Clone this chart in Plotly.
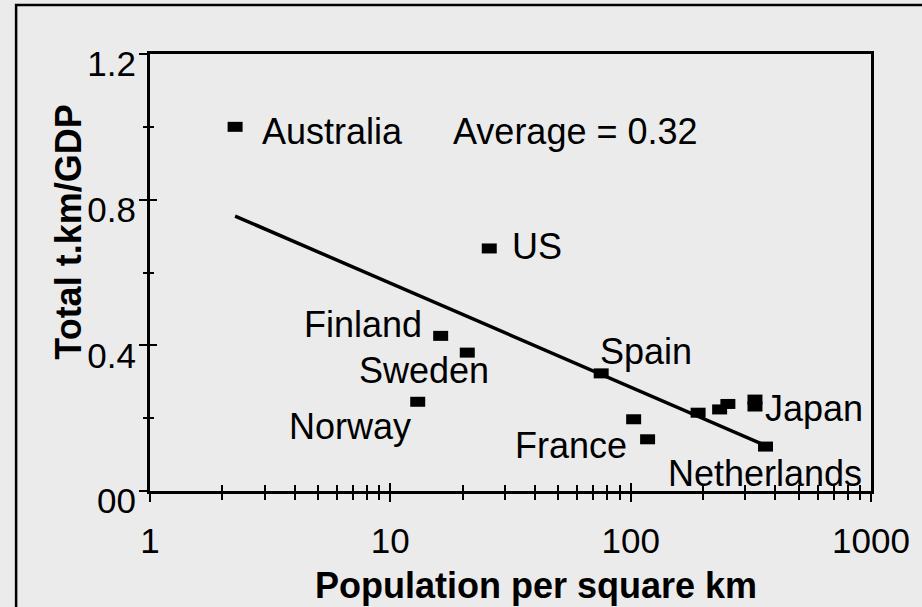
import math
import plotly.graph_objects as go

# ---- data ----
countries = ["Australia", "US", "Finland", "Sweden", "Norway", "Spain",
             "France", "France", "", "", "", "Japan", "Japan", "Netherlands"]
density = [2.26, 25.8, 16.2, 20.9, 13.0, 75.4, 102.9, 117.6, 190.8, 234.5, 253.8, 329, 329, 364]
tkm_gdp = [1.0, 0.666, 0.426, 0.380, 0.245, 0.323, 0.197, 0.142, 0.215, 0.224, 0.239, 0.251, 0.232, 0.122]

trend_x = [2.26, 364]
trend_y = [0.755, 0.125]

x_tick_vals = [1, 10, 100, 1000]
x_tick_text = ["1", "10", "100", "1000"]
y_tick_vals = [0, 0.4, 0.8, 1.2]
y_tick_text = ["00", "0.4", "0.8", "1.2"]
y_minor_vals = [0.2, 0.6, 1.0]

# label texts and their positions (value space)
label_text = ["Australia", "Average = 0.32", "US", "Finland", "Sweden", "Norway",
              "Spain", "France", "Japan", "Netherlands"]
label_x = [2.86, 17.8, 31.5, 13.87, 7.24, 3.72, 73.1, 98.4, 356, 936]
label_y = [0.988, 0.988, 0.671, 0.456, 0.332, 0.1766, 0.3825, 0.1263, 0.2279, 0.0467]
label_anchor = ["left", "left", "left", "right", "left", "left", "left", "right", "left", "right"]

BG = "#ebebeb"
FONT = "Liberation Sans, Arial, sans-serif"

fig = go.Figure()
fig.add_trace(go.Scatter(x=trend_x, y=trend_y, mode="lines",
                         line=dict(color="black", width=3.5), hoverinfo="skip",
                         showlegend=False))
fig.add_trace(go.Scatter(x=density, y=tkm_gdp, mode="markers", text=countries,
                         marker=dict(symbol="line-ew", size=10.7, color="black",
                                     line=dict(color="black", width=10)),
                         showlegend=False))
# invisible trace to host the overlay axes (for crossing tick marks)
fig.add_trace(go.Scatter(x=[1], y=[0], xaxis="x2", yaxis="y2", mode="markers",
                         marker=dict(opacity=0), hoverinfo="skip", showlegend=False))

common_x = dict(type="log", range=[0, 3], showgrid=False, zeroline=False,
                tickvals=x_tick_vals)
common_y = dict(range=[0, 1.2], showgrid=False, zeroline=False, tickvals=y_tick_vals)

fig.update_layout(
    width=922, height=607,
    margin=dict(l=150, r=45, t=54, b=116),
    paper_bgcolor=BG, plot_bgcolor=BG,
    font=dict(family=FONT, color="black"),
    xaxis=dict(**common_x, ticktext=x_tick_text, ticks="outside", ticklen=8,
               tickwidth=2, tickcolor="black", showline=True, linewidth=3,
               linecolor="black", mirror=True, ticklabelstandoff=9,
               tickfont=dict(size=35, family=FONT, color="black"),
               minor=dict(ticks="outside", ticklen=6, tickwidth=2, tickcolor="black",
                          dtick="D1", showgrid=False)),
    xaxis2=dict(**common_x, overlaying="x", anchor="y2", showline=False,
                showticklabels=False, ticks="inside", ticklen=8, tickwidth=2,
                tickcolor="black",
                minor=dict(ticks="inside", ticklen=6, tickwidth=2, tickcolor="black",
                           dtick="D1", showgrid=False)),
    yaxis=dict(**common_y, ticktext=y_tick_text, ticks="outside", ticklen=8,
               tickwidth=2, tickcolor="black", showline=True, linewidth=3,
               linecolor="black", mirror=True, ticklabelshift=10,
               ticklabelstandoff=-4,
               tickfont=dict(size=35, family=FONT, color="black"),
               minor=dict(tickvals=y_minor_vals, ticks="outside", ticklen=4,
                          tickwidth=2, tickcolor="black", showgrid=False)),
    yaxis2=dict(**common_y, overlaying="y", anchor="x2", showline=False,
                showticklabels=False, ticks="inside", ticklen=7, tickwidth=2,
                tickcolor="black",
                minor=dict(tickvals=y_minor_vals, ticks="inside", ticklen=4,
                           tickwidth=2, tickcolor="black", showgrid=False)),
)

for t, lx, ly, anc in zip(label_text, label_x, label_y, label_anchor):
    fig.add_annotation(x=math.log10(lx), y=ly, xref="x", yref="y", text=t,
                       showarrow=False, xanchor=anc, yanchor="middle",
                       font=dict(size=36, family=FONT, color="black"))

# axis titles
fig.add_annotation(x=0.535, y=-0.2162, xref="paper", yref="paper",
                   text="<b>Population per square km</b>", showarrow=False,
                   xanchor="center", yanchor="middle",
                   font=dict(size=36, family=FONT, color="black"))
fig.add_annotation(x=-0.1135, y=0.5915, xref="paper", yref="paper",
                   text="<b>Total t.km/GDP</b>", showarrow=False, textangle=-90,
                   xanchor="center", yanchor="middle",
                   font=dict(size=36, family=FONT, color="black"))

# outer frame (partly cropped by the window)
fig.add_shape(type="rect", xref="paper", yref="paper",
              x0=-0.1857, x1=1.073, y0=-0.295, y1=1.1121,
              line=dict(color="black", width=2.5), fillcolor="rgba(0,0,0,0)")

fig.write_html("out.html", config={"displayModeBar": False},
               post_script="document.body.style.margin='0';document.body.style.background='%s';" % BG)
